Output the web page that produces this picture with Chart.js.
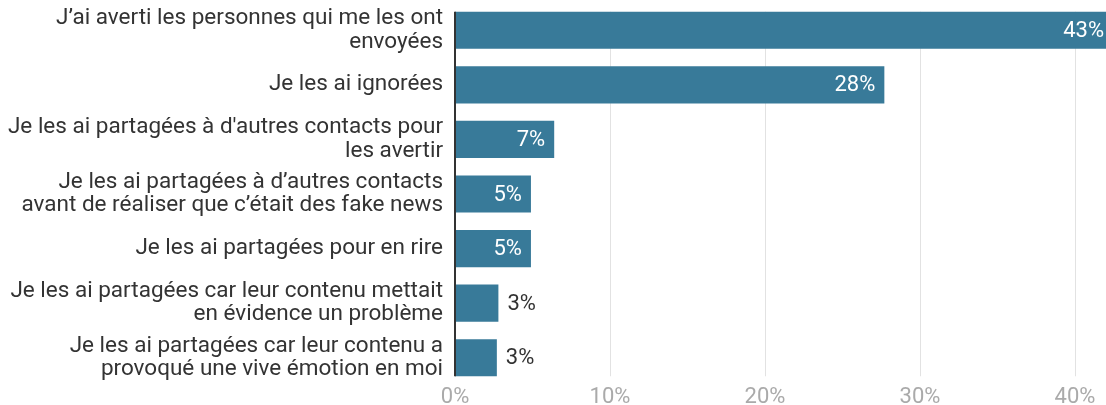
<!DOCTYPE html>
<html>
<head>
<meta charset="utf-8">
<script src="https://cdn.jsdelivr.net/npm/chart.js@4"></script>
<style>
  html, body { margin: 0; padding: 0; background: #fff; }
  #wrap { width: 1106px; height: 405px; position: relative; }
</style>
</head>
<body>
<div id="wrap"><canvas id="fakeChart"></canvas></div>
<script>
// Données
const categories = [
    ["J’ai averti les personnes qui me les ont", "envoyées"],
    "Je les ai ignorées",
    ["Je les ai partagées à d'autres contacts pour", "les avertir"],
    ["Je les ai partagées à d’autres contacts", "avant de réaliser que c’était des fake news"],
    "Je les ai partagées pour en rire",
    ["Je les ai partagées car leur contenu mettait", "en évidence un problème"],
    ["Je les ai partagées car leur contenu a", "provoqué une vive émotion en moi"]
];
const values = [43, 27.7, 6.4, 4.9, 4.9, 2.8, 2.7];
const valueLabels = ['43%', '28%', '7%', '5%', '5%', '3%', '3%'];
const xTicks = [0, 10, 20, 30, 40];

const barColor = '#387a99';
const fontFamily = 'Roboto, "Noto Sans", sans-serif';

// Haut et bas de la zone des barres (du haut de la 1re barre au bas de la dernière)
function barSpan(chart) {
    const bars = chart.getDatasetMeta(0).data;
    const first = bars[0], last = bars[bars.length - 1];
    return {
        top: first.y - first.height / 2,
        bottom: last.y + last.height / 2
    };
}

// Grille verticale + axe 0, limités à la hauteur des barres
const gridPlugin = {
    id: 'barGrid',
    beforeDatasetsDraw(chart) {
        const c = chart.ctx;
        const x = chart.scales.x;
        const span = barSpan(chart);
        c.save();
        c.strokeStyle = '#e2e2e2';
        c.lineWidth = 1;
        xTicks.forEach(v => {
            if (v === 0) return;
            const px = Math.round(x.getPixelForValue(v)) + 0.5;
            c.beginPath();
            c.moveTo(px, span.top);
            c.lineTo(px, span.bottom);
            c.stroke();
        });
        c.restore();
    },
    afterDatasetsDraw(chart) {
        const c = chart.ctx;
        const x = chart.scales.x;
        const span = barSpan(chart);
        const px = x.getPixelForValue(0);
        c.save();
        c.strokeStyle = '#333333';
        c.lineWidth = 2;
        c.beginPath();
        c.moveTo(px, span.top);
        c.lineTo(px, span.bottom);
        c.stroke();
        c.restore();
    }
};

// Étiquettes de valeur : dedans en blanc si ça rentre, sinon à droite en gris foncé
const valueLabelPlugin = {
    id: 'valueLabels',
    afterDatasetsDraw(chart) {
        const c = chart.ctx;
        const area = chart.chartArea;
        const meta = chart.getDatasetMeta(0);
        c.save();
        c.font = '22px ' + fontFamily;
        c.textBaseline = 'middle';
        meta.data.forEach((bar, i) => {
            const txt = valueLabels[i];
            const w = c.measureText(txt).width;
            const clipped = bar.x > area.right;
            const end = Math.min(bar.x, area.right);
            const barW = end - bar.base;
            if (barW > w + 26) {
                c.fillStyle = '#ffffff';
                c.textAlign = 'right';
                c.fillText(txt, clipped ? end - 2 : end - 9, bar.y + 1);
            } else {
                c.fillStyle = '#333333';
                c.textAlign = 'left';
                c.fillText(txt, end + 9, bar.y + 1);
            }
        });
        c.restore();
    }
};

const ctx = document.getElementById('fakeChart').getContext('2d');
const chart = new Chart(ctx, {
    type: 'bar',
    data: {
        labels: categories,
        datasets: [{
            data: values,
            backgroundColor: barColor,
            borderWidth: 0,
            barPercentage: 0.68,
            categoryPercentage: 1
        }]
    },
    options: {
        indexAxis: 'y',
        responsive: true,
        maintainAspectRatio: false,
        animation: false,
        layout: { padding: { top: 3, right: 0, left: 0, bottom: 0 } },
        scales: {
            x: {
                min: 0,
                max: 42,
                afterBuildTicks: (axis) => {
                    axis.ticks = xTicks.map(v => ({ value: v }));
                },
                afterFit: (axis) => {
                    axis.height = 20;
                    axis.paddingLeft = 0;
                    axis.paddingRight = 0;
                },
                grid: { display: false, drawTicks: false },
                border: { display: false },
                ticks: {
                    padding: 1,
                    color: '#aaaaaa',
                    font: { family: fontFamily, size: 22, lineHeight: 1 },
                    callback: (v) => v + '%'
                }
            },
            y: {
                afterFit: (axis) => {
                    axis.width = 455;
                    axis.paddingTop = 0;
                    axis.paddingBottom = 0;
                },
                grid: { display: false, drawTicks: false },
                border: { display: false },
                ticks: {
                    padding: 12,
                    color: '#333333',
                    autoSkip: false,
                    font: { family: fontFamily, size: 22.5, lineHeight: 1.04 }
                }
            }
        },
        plugins: {
            legend: { display: false },
            tooltip: { enabled: false }
        }
    },
    plugins: [gridPlugin, valueLabelPlugin]
});
</script>
</body>
</html>
